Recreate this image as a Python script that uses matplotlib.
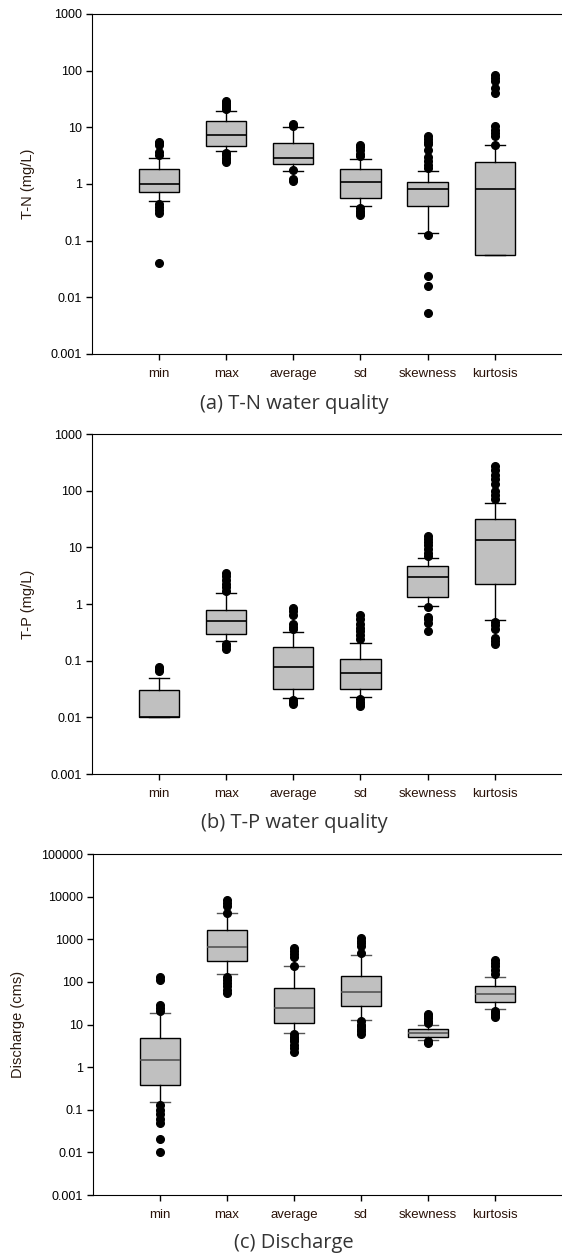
import numpy as np
import matplotlib.pyplot as plt
from matplotlib.ticker import FixedLocator, NullLocator

plt.rcParams['font.family'] = ['Liberation Sans', 'DejaVu Sans']

# ===== Data =====

stats_names = ['min', 'max', 'average', 'sd', 'skewness', 'kurtosis']

# (a) T-N
tn_q1 = [0.72, 4.75, 2.25, 0.566, 0.41, 0.056]
tn_med = [1.0, 7.3, 2.88, 1.08, 0.82, 0.82]
tn_q3 = [1.84, 12.8, 5.3, 1.84, 1.08, 2.44]
tn_wlo = [0.5, 3.8, 1.67, 0.41, 0.136, 0.056]
tn_whi = [2.88, 19.4, 10.1, 2.76, 1.7, 4.88]
tn_fliers = [
    [5.6, 5.2, 4.8, 3.7, 3.3, 0.45, 0.4, 0.35, 0.31, 0.040],
    [29, 27, 25, 23, 21, 3.5, 3.2, 2.9, 2.6, 2.4],
    [11.4, 10.7, 1.74, 1.2, 1.12],
    [4.9, 4.4, 3.9, 3.4, 3.1, 0.38, 0.34, 0.31, 0.28],
    [6.9, 6.2, 5.6, 5.0, 4.0, 3.0, 2.5, 2.2, 1.9, 0.125, 0.0235, 0.016, 0.0053],
    [85, 75, 65, 50, 40, 10.4, 9.0, 8.0, 7.0, 4.9],
]

# (b) T-P
tp_q1 = [0.01, 0.296, 0.0316, 0.0316, 1.33, 2.25]
tp_med = [0.01, 0.5, 0.077, 0.0606, 3.04, 13.6]
tp_q3 = [0.030, 0.78, 0.175, 0.107, 4.7, 31.6]
tp_wlo = [0.01, 0.222, 0.0218, 0.0228, 0.93, 0.52]
tp_whi = [0.049, 1.56, 0.325, 0.205, 6.6, 60.5]
tp_fliers = [
    [0.079, 0.072, 0.066],
    [3.5, 3.1, 2.7, 2.3, 2.0, 1.7, 0.2, 0.18, 0.16],
    [0.85, 0.75, 0.65, 0.45, 0.4, 0.37, 0.02, 0.019, 0.017],
    [0.65, 0.55, 0.45, 0.38, 0.33, 0.28, 0.24, 0.021, 0.019, 0.017, 0.016],
    [15.6, 14, 12.5, 11, 9.5, 8, 7, 0.9, 0.6, 0.55, 0.47, 0.33],
    [268, 230, 190, 160, 130, 100, 85, 70, 0.48, 0.42, 0.37, 0.25, 0.22, 0.2],
]

# (c) Discharge
q_q1 = [0.378, 313, 11, 27.5, 5.06, 33.6]
q_med = [1.49, 668, 24.7, 58.6, 6.4, 50.7]
q_q3 = [4.8, 1615, 72.8, 139, 7.95, 78]
q_wlo = [0.151, 155, 6.4, 12.9, 4.3, 23]
q_whi = [18.9, 4050, 239, 433, 10, 127]
q_fliers = [
    [130, 110, 28, 24, 21, 0.13, 0.1, 0.08, 0.06, 0.05, 0.0204, 0.01],
    [8400, 7000, 6000, 4100, 130, 110, 95, 80, 65, 55],
    [611, 530, 460, 390, 240, 6, 5, 4.5, 4, 3.3, 2.8, 2.3],
    [1050, 900, 800, 700, 470, 12, 10, 9, 8, 7, 6],
    [18, 16, 14, 12, 11, 4.2, 3.8, 3.6],
    [325, 280, 230, 190, 150, 21, 19, 17, 15],
]

# ===== Figure =====

fig = plt.figure(figsize=(5.62, 12.57), dpi=100)


def make_stats(q1, med, q3, wlo, whi, fliers):
    return [dict(q1=a, med=b, q3=c, whislo=d, whishi=e, fliers=f, label=n)
            for a, b, c, d, e, f, n in zip(q1, med, q3, wlo, whi, fliers, stats_names)]


def draw_panel(rect, stats, ylabel, caption, cap_y, ymax, line_col='black'):
    ax = fig.add_axes(rect)
    ax.bxp(stats, positions=range(1, 7), widths=0.6, capwidths=0.3,
           patch_artist=True,
           boxprops=dict(facecolor='#c0c0c0', edgecolor='black', linewidth=1),
           medianprops=dict(color=line_col, linewidth=1.2),
           whiskerprops=dict(color='black', linewidth=1),
           capprops=dict(color=line_col, linewidth=1),
           flierprops=dict(marker='o', markerfacecolor='black', markeredgecolor='black',
                           markersize=5.5))
    ax.set_yscale('log')
    ax.set_ylim(0.001, ymax)
    ax.set_xlim(0, 7)
    decades = [10.0 ** k for k in range(-3, int(round(np.log10(ymax))) + 1)]
    ax.yaxis.set_major_locator(FixedLocator(decades))
    ax.yaxis.set_minor_locator(NullLocator())
    ax.set_yticklabels(['%g' % d if d < 1 else '%d' % d for d in decades])
    ax.set_xticks(range(1, 7))
    ax.set_xticklabels(stats_names)
    ax.tick_params(direction='out', length=4, width=1, labelsize=9, colors='black')
    ax.tick_params(axis='x', labelcolor='#2a1208', labelsize=9.5, pad=6)
    ax.spines['right'].set_visible(False)
    ax.set_ylabel(ylabel, fontsize=10.5, color='#2a1a10', labelpad=11)
    fig.text(0.523, cap_y, caption, ha='center', va='center', fontsize=14.5,
             color='#333333', family=['Open Sans', 'DejaVu Sans'])
    return ax


draw_panel([0.1637, 0.7184, 0.836, 0.2705],
           make_stats(tn_q1, tn_med, tn_q3, tn_wlo, tn_whi, tn_fliers),
           'T-N (mg/L)', '(a) T-N water quality', 1 - 404 / 1257, 1000)
draw_panel([0.1637, 0.3842, 0.836, 0.2705],
           make_stats(tp_q1, tp_med, tp_q3, tp_wlo, tp_whi, tp_fliers),
           'T-P (mg/L)', '(b) T-P water quality', 1 - 823 / 1257, 1000)
draw_panel([0.1655, 0.0493, 0.834, 0.2713],
           make_stats(q_q1, q_med, q_q3, q_wlo, q_whi, q_fliers),
           'Discharge (cms)', '(c) Discharge', 1 - 1243 / 1257, 100000,
           line_col='#555555')

plt.savefig('out.png', dpi=100)
